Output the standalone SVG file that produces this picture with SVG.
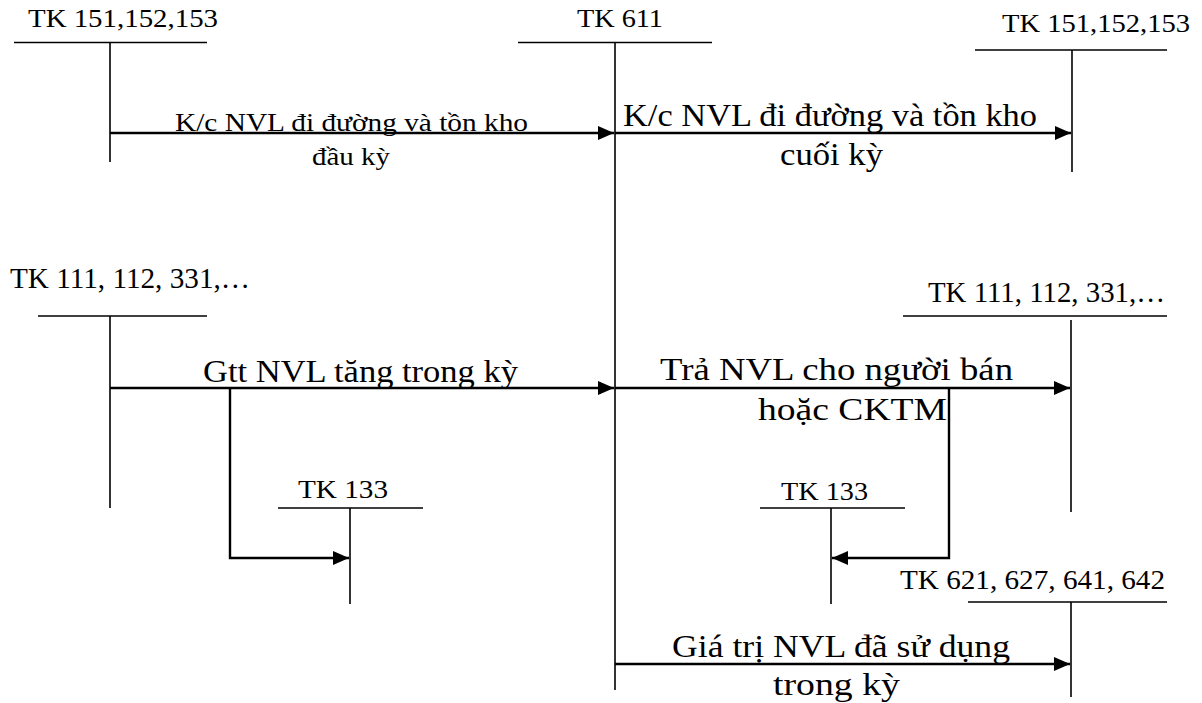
<svg xmlns="http://www.w3.org/2000/svg" width="1202" height="703" viewBox="0 0 1202 703">
  <style>
    .t { stroke: #000; stroke-width: 1.6; fill: none; }
    .c { stroke: #000; stroke-width: 2.4; fill: none; }
  </style>
  <defs>
    <marker id="arrow" markerUnits="userSpaceOnUse" markerWidth="18" markerHeight="16" refX="16" refY="7" orient="auto">
      <path d="M0,0 L16,7 L0,14 z" fill="#000"/>
    </marker>
  </defs>
  <rect width="1202" height="703" fill="#fff"/>

  <g font-family="'Liberation Serif', 'Times New Roman', serif" fill="#000">
  <!-- T-accounts -->
  <g id="tk151-open">
    <text x="28" y="27" font-size="25" textLength="190" lengthAdjust="spacingAndGlyphs">TK 151,152,153</text>
    <line class="t" x1="14" y1="42.5" x2="207" y2="42.5"/>
    <line class="t" x1="110" y1="42.5" x2="110" y2="162"/>
  </g>
  <g id="tk611">
    <text x="577" y="27" font-size="26" textLength="86" lengthAdjust="spacingAndGlyphs">TK 611</text>
    <line class="t" x1="518" y1="42.5" x2="712" y2="42.5"/>
    <line class="t" x1="615" y1="42.5" x2="615" y2="690"/>
  </g>
  <g id="tk151-close">
    <text x="1002" y="32" font-size="25" textLength="188" lengthAdjust="spacingAndGlyphs">TK 151,152,153</text>
    <line class="t" x1="975" y1="50" x2="1167" y2="50"/>
    <line class="t" x1="1072" y1="50" x2="1072" y2="172"/>
  </g>
  <g id="tk111-in">
    <text x="10" y="288" font-size="29" textLength="240" lengthAdjust="spacingAndGlyphs">TK 111, 112, 331,…</text>
    <line class="t" x1="38" y1="316" x2="207" y2="316"/>
    <line class="t" x1="110" y1="316" x2="110" y2="508"/>
  </g>
  <g id="tk133-in">
    <text x="298" y="498" font-size="26" textLength="90" lengthAdjust="spacingAndGlyphs">TK 133</text>
    <line class="t" x1="278" y1="508" x2="423" y2="508"/>
    <line class="t" x1="350" y1="508" x2="350" y2="604"/>
  </g>
  <g id="tk111-out">
    <text x="928" y="302" font-size="29" textLength="237" lengthAdjust="spacingAndGlyphs">TK 111, 112, 331,…</text>
    <line class="t" x1="903" y1="316" x2="1167" y2="316"/>
    <line class="t" x1="1071" y1="320" x2="1071" y2="512"/>
  </g>
  <g id="tk133-out">
    <text x="781" y="500" font-size="26" textLength="87" lengthAdjust="spacingAndGlyphs">TK 133</text>
    <line class="t" x1="760" y1="508" x2="905" y2="508"/>
    <line class="t" x1="831" y1="508" x2="831" y2="604"/>
  </g>
  <g id="tk621">
    <text x="900" y="589" font-size="28" textLength="265" lengthAdjust="spacingAndGlyphs">TK 621, 627, 641, 642</text>
    <line class="t" x1="968" y1="602" x2="1167" y2="602"/>
    <line class="t" x1="1071" y1="602" x2="1071" y2="697"/>
  </g>

  <!-- postings between accounts -->
  <g id="connectors">
    <line class="c" x1="110" y1="133" x2="614" y2="133" marker-end="url(#arrow)"/>
    <line class="c" x1="615" y1="133" x2="1071" y2="133" marker-end="url(#arrow)"/>
    <line class="c" x1="110" y1="388" x2="614" y2="388" marker-end="url(#arrow)"/>
    <polyline class="c" points="230,388 230,558 349,558" marker-end="url(#arrow)"/>
    <line class="c" x1="615" y1="388" x2="1070" y2="388" marker-end="url(#arrow)"/>
    <polyline class="c" points="949,388 949,558 832,558" marker-end="url(#arrow)"/>
    <line class="c" x1="615" y1="664" x2="1070" y2="664" marker-end="url(#arrow)"/>
  </g>

  <g id="labels">
    <text x="175" y="131" font-size="26" textLength="353" lengthAdjust="spacingAndGlyphs">K/c NVL đi đường và tồn kho</text>
    <text x="312" y="165" font-size="26" textLength="78" lengthAdjust="spacingAndGlyphs">đầu kỳ</text>
    <text x="623" y="126" font-size="32" textLength="414" lengthAdjust="spacingAndGlyphs">K/c NVL đi đường và tồn kho</text>
    <text x="780" y="165" font-size="32" textLength="103" lengthAdjust="spacingAndGlyphs">cuối kỳ</text>
    <text x="203" y="382" font-size="31" textLength="315" lengthAdjust="spacingAndGlyphs">Gtt NVL tăng trong kỳ</text>
    <text x="660" y="380" font-size="32" textLength="353" lengthAdjust="spacingAndGlyphs">Trả NVL cho người bán</text>
    <text x="758" y="420" font-size="32" textLength="189" lengthAdjust="spacingAndGlyphs">hoặc CKTM</text>
    <text x="672" y="657" font-size="32" textLength="338" lengthAdjust="spacingAndGlyphs">Giá trị NVL đã sử dụng</text>
    <text x="773" y="695" font-size="32" textLength="127" lengthAdjust="spacingAndGlyphs">trong kỳ</text>
  </g>
  </g>
</svg>
